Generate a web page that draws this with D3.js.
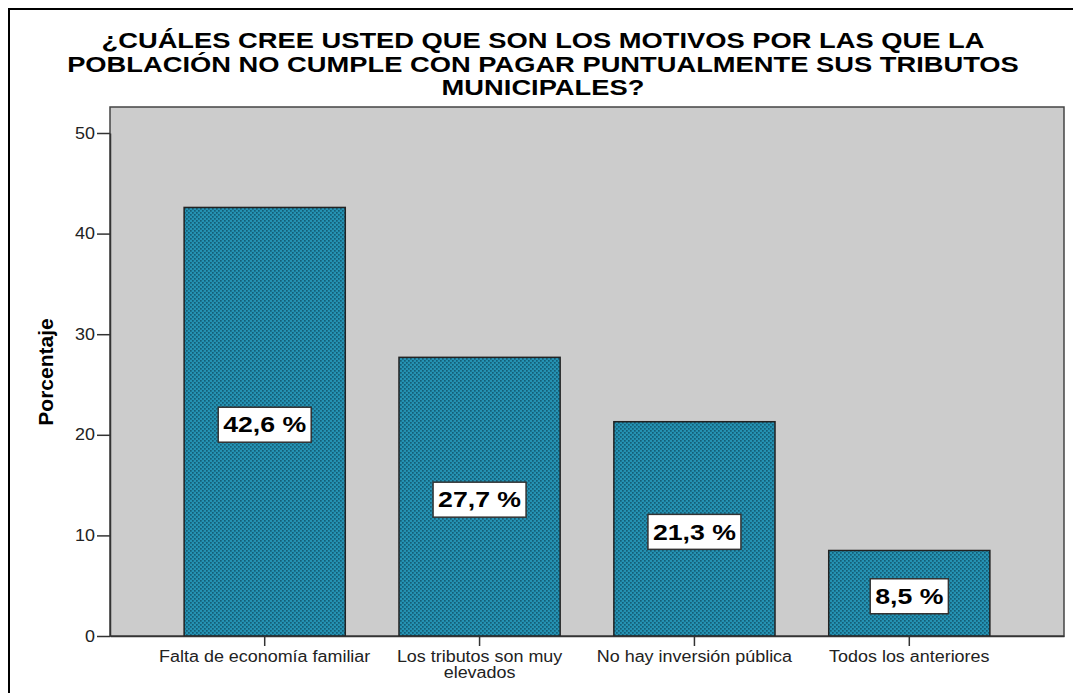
<!DOCTYPE html>
<html>
<head>
<meta charset="utf-8">
<script src="https://cdn.jsdelivr.net/npm/d3@7"></script>
<style>
  body { margin: 0; background: #fff; }
  svg { display: block; font-family: "Liberation Sans", Arial, sans-serif; }
</style>
</head>
<body>
<div id="chart"></div>
<script>
  // Chart data
  const categories = [
    "Falta de economía familiar",
    "Los tributos son muy elevados",
    "No hay inversión pública",
    "Todos los anteriores"
  ];
  const categoryLines = [
    ["Falta de economía familiar"],
    ["Los tributos son muy", "elevados"],
    ["No hay inversión pública"],
    ["Todos los anteriores"]
  ];
  const percentages = [42.6, 27.7, 21.3, 8.5];
  const yTicks = [0, 10, 20, 30, 40, 50];
  const titleLines = [
    "¿CUÁLES CREE USTED QUE SON LOS MOTIVOS POR LAS QUE LA",
    "POBLACIÓN NO CUMPLE CON PAGAR PUNTUALMENTE SUS TRIBUTOS",
    "MUNICIPALES?"
  ];
  const yTitle = "Porcentaje";

  const width = 1073;
  const height = 693;
  const plot = { left: 110, right: 1064, top: 107, bottom: 636 };

  const svg = d3.select("#chart")
    .append("svg")
    .attr("width", width)
    .attr("height", height);

  // dotted teal fill like the SPSS bars
  const defs = svg.append("defs");
  const pattern = defs.append("pattern")
    .attr("id", "dots")
    .attr("patternUnits", "userSpaceOnUse")
    .attr("width", 4)
    .attr("height", 4);
  pattern.append("rect").attr("width", 4).attr("height", 4).attr("fill", "#2592b3");
  pattern.append("rect").attr("x", 0).attr("y", 0).attr("width", 1.7).attr("height", 1.7).attr("fill", "#145e77");
  pattern.append("rect").attr("x", 2).attr("y", 2).attr("width", 1.7).attr("height", 1.7).attr("fill", "#145e77");

  // outer frame (only top and left edges are visible)
  svg.append("rect")
    .attr("x", 9).attr("y", 9)
    .attr("width", width + 20).attr("height", height + 20)
    .attr("fill", "none")
    .attr("stroke", "#000")
    .attr("stroke-width", 2);

  // stretch text horizontally to a factor of its natural width
  const stretch = (sel, factor) => {
    sel.each(function () {
      const len = this.getComputedTextLength();
      d3.select(this)
        .attr("textLength", len * factor)
        .attr("lengthAdjust", "spacingAndGlyphs");
    });
  };

  // Title
  svg.append("g")
    .selectAll("text")
    .data(titleLines)
    .enter()
    .append("text")
    .attr("x", 543)
    .attr("y", (d, i) => 48 + i * 23.5)
    .attr("text-anchor", "middle")
    .style("font-size", "21.5px")
    .style("font-weight", "bold")
    .attr("fill", "#000")
    .text(d => d)
    .call(stretch, 1.27);

  const xScale = d3.scaleBand()
    .domain(categories)
    .range([plot.left, plot.right])
    .paddingInner(0.25)
    .paddingOuter(0.345);

  const yScale = d3.scaleLinear()
    .domain([0, 50])
    .range([plot.bottom, 133]);

  // Plot background
  svg.append("rect")
    .attr("x", plot.left)
    .attr("y", plot.top)
    .attr("width", plot.right - plot.left)
    .attr("height", plot.bottom - plot.top)
    .attr("fill", "#cccccc")
    .attr("stroke", "#444")
    .attr("stroke-width", 1.5);

  // Bars
  svg.append("g")
    .selectAll("rect")
    .data(percentages)
    .enter()
    .append("rect")
    .attr("x", (d, i) => xScale(categories[i]))
    .attr("y", d => yScale(d))
    .attr("width", xScale.bandwidth())
    .attr("height", d => plot.bottom - yScale(d))
    .attr("fill", "url(#dots)")
    .attr("stroke", "#222")
    .attr("stroke-width", 1.5);

  // Y axis
  const yAxis = svg.append("g")
    .attr("transform", `translate(${plot.left}, 0)`)
    .call(d3.axisLeft(yScale).tickValues(yTicks).tickSizeInner(13).tickSizeOuter(0).tickPadding(2));
  yAxis.select(".domain").attr("stroke", "#333").attr("stroke-width", 1.5);
  yAxis.selectAll(".tick line").attr("stroke", "#333").attr("stroke-width", 1.5);
  yAxis.selectAll(".tick text")
    .attr("fill", "#222")
    .style("font-size", "16px")
    .style("font-family", "'Liberation Sans', Arial, sans-serif")
    .call(stretch, 1.12);

  // X axis
  const xAxis = svg.append("g")
    .attr("transform", `translate(0, ${plot.bottom})`)
    .call(d3.axisBottom(xScale).tickSizeInner(10).tickSizeOuter(0).tickFormat(""));
  xAxis.select(".domain").attr("stroke", "#333").attr("stroke-width", 1.5);
  xAxis.selectAll(".tick line").attr("stroke", "#333").attr("stroke-width", 1.5);

  // Category labels (wrapped)
  const catLabels = svg.append("g")
    .selectAll("text")
    .data(categories)
    .enter()
    .append("text")
    .attr("x", d => xScale(d) + xScale.bandwidth() / 2)
    .attr("y", 662)
    .attr("text-anchor", "middle")
    .attr("fill", "#222")
    .style("font-size", "16px");
  catLabels.each(function (d, i) {
    const t = d3.select(this);
    categoryLines[i].forEach((line, j) => {
      t.append("tspan")
        .attr("x", xScale(d) + xScale.bandwidth() / 2)
        .attr("dy", j === 0 ? 0 : 15.5)
        .text(line)
        .each(function () {
          const len = this.getComputedTextLength();
          d3.select(this)
            .attr("textLength", len * 1.12)
            .attr("lengthAdjust", "spacingAndGlyphs");
        });
    });
  });

  // Y axis title
  svg.append("text")
    .attr("transform", `translate(53, 372) rotate(-90)`)
    .attr("text-anchor", "middle")
    .style("font-size", "20px")
    .style("font-weight", "bold")
    .attr("fill", "#000")
    .text(yTitle)
    .call(stretch, 1.05);

  // Value labels in white boxes
  const labels = svg.append("g")
    .selectAll("g")
    .data(percentages)
    .enter()
    .append("g")
    .attr("transform", (d, i) => {
      const cx = xScale(categories[i]) + xScale.bandwidth() / 2;
      const cy = (yScale(d) + plot.bottom) / 2 + 3;
      return `translate(${cx}, ${cy})`;
    });

  labels.append("rect")
    .attr("fill", "#fff")
    .attr("stroke", "#333")
    .attr("stroke-width", 1.5);

  labels.append("text")
    .attr("text-anchor", "middle")
    .attr("dy", "0.36em")
    .style("font-size", "21.5px")
    .style("font-weight", "bold")
    .attr("fill", "#000")
    .text(d => d3.format(".1f")(d).replace(".", ",") + " %")
    .call(stretch, 1.24)
    .each(function () {
      const w = +this.getAttribute("textLength") + 10;
      d3.select(this.parentNode).select("rect")
        .attr("x", -w / 2)
        .attr("y", -17.5)
        .attr("width", w)
        .attr("height", 35);
    });
</script>
</body>
</html>
